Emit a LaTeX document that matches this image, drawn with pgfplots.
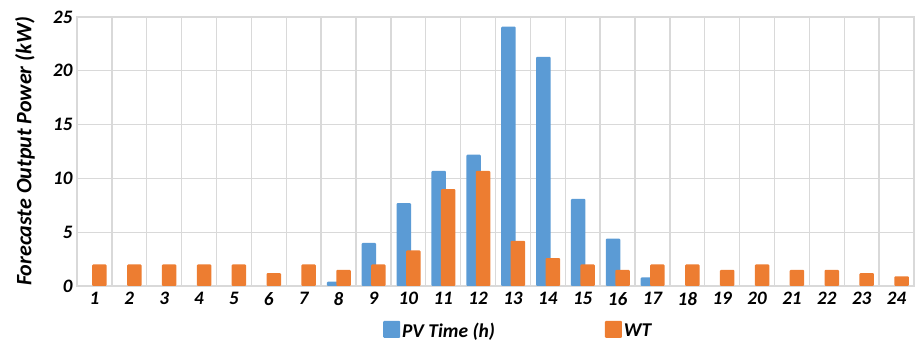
\documentclass[border=0pt]{standalone}
\usepackage{pgfplots}
\pgfplotsset{compat=1.18}
\usepackage{fontspec}
\setmainfont{Carlito}
\definecolor{pvblue}{HTML}{5B9BD5}
\definecolor{wtorange}{HTML}{ED7D31}
\definecolor{gridgray}{HTML}{D9D9D9}
\begin{document}
\begin{tikzpicture}
\path[use as bounding box] (-77pt,-58pt) rectangle (841pt,286pt);
\begin{axis}[
  at={(0,0)}, anchor=south west,
  scale only axis,
  width=837pt, height=269pt,
  xmin=0.5, xmax=24.5,
  ymin=0, ymax=25,
  xtick={1,...,24},
  minor xtick={0.5,1.5,2.5,3.5,4.5,5.5,6.5,7.5,8.5,9.5,10.5,11.5,12.5,13.5,14.5,15.5,16.5,17.5,18.5,19.5,20.5,21.5,22.5,23.5,24.5},
  ytick={0,5,...,25},
  xmajorgrids=false, xminorgrids=true, ymajorgrids=true,
  grid style={gridgray, line width=1.3pt},
  minor grid style={gridgray, line width=1.3pt},
  axis line style={gridgray, line width=1.3pt},
  major tick length=0pt, minor tick length=0pt,
  tick style={draw=none},
  /pgf/number format/assume math mode=true,
  tick label style={font=\fontsize{19}{22}\selectfont\bfseries\itshape, text=black},
  xticklabel style={yshift=-3pt},
  yticklabel style={xshift=-1pt},
  ylabel={Forecaste Output Power (kW)},
  every axis y label/.style={at={(axis description cs:0,0.5)}, xshift=-52pt, rotate=90, anchor=center, font=\fontsize{22}{26}\selectfont\bfseries\itshape},
  legend style={at={(axis description cs:0.362,-0.167)}, anchor=west, draw=none, fill=none,
    font=\fontsize{19.5}{23}\selectfont\bfseries\itshape, legend columns=-1,
    /tikz/every even column/.append style={column sep=108pt}},
  legend image code/.code={\fill[#1] (0pt,-7pt) rectangle (17pt,10pt);},
  clip=false,
]
\addplot[ybar, bar width=14.5pt, bar shift=-4.5pt, fill=pvblue, draw=none, rounded corners=1pt] coordinates {
(8,0.4) (9,4.0) (10,7.7) (11,10.7) (12,12.2) (13,24.1) (14,21.3) (15,8.1) (16,4.4) (17,0.8)
};
\addlegendentry{PV Time (h)}
\addplot[ybar, bar width=14.5pt, bar shift=5pt, fill=wtorange, draw=none, rounded corners=1pt] coordinates {
(1,2.0) (2,2.0) (3,2.0) (4,2.0) (5,2.0) (6,1.2) (7,2.0) (8,1.5) (9,2.0) (10,3.3) (11,9.0) (12,10.7)
(13,4.2) (14,2.6) (15,2.0) (16,1.5) (17,2.0) (18,2.0) (19,1.5) (20,2.0) (21,1.5) (22,1.5) (23,1.2) (24,0.9)
};
\addlegendentry{WT}
\end{axis}
\end{tikzpicture}
\end{document}
